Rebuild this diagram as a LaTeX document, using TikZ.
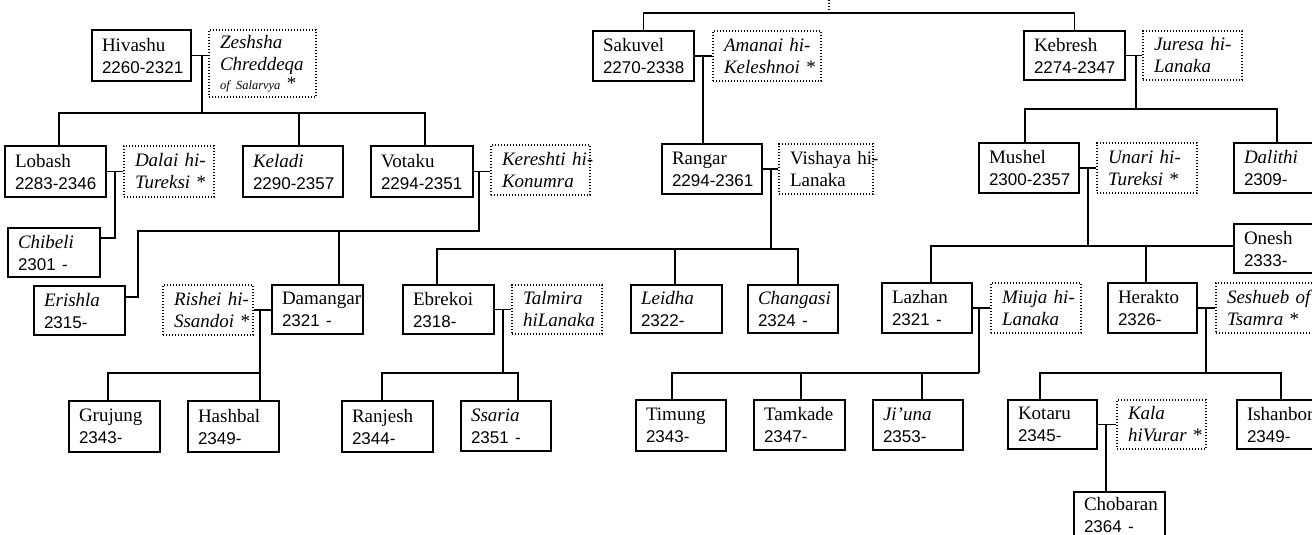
\documentclass[tikz,border=0pt]{standalone}
\usepackage{fontspec}
\setmainfont{Liberation Serif}
\newfontfamily\datefont{Liberation Sans}
\newcommand\nmfont{\fontsize{19}{22}\selectfont\hyphenpenalty=10000\exhyphenpenalty=10000 }
\newcommand\dt[1]{{\datefont\fontsize{17}{22}\selectfont #1}}
\tikzset{
  pbox/.style={draw, line width=1.4pt, inner xsep=10pt, inner ysep=0pt, align=left, font=\nmfont},
  sbox/.style={draw, line width=1.1pt, dash pattern=on 1.3pt off 1.7pt, inner xsep=11pt, inner ysep=0pt, align=left, font=\nmfont},
  conn/.style={line width=1.4pt},
  dconn/.style={line width=1.1pt, dash pattern=on 1.3pt off 1.7pt}
}
\begin{document}
\begin{tikzpicture}[x=1pt,y=-1pt]
\fill[white] (0,0) rectangle (1312,535);
\clip (0,0) rectangle (1312,535);
% ---- people ----
\node[pbox, text width=79pt, minimum height=51pt] (hiv) at (141.5,55.5) {Hivashu\\\dt{2260-2321}};
\node[sbox, text width=85pt, minimum height=67pt] (zes) at (262.5,63.5) {\textit{Zeshsha}\\\textit{Chreddeqa}\\[-3pt]{\fontsize{12.5}{14}\selectfont\itshape of~Salarvya}~*};
\node[pbox, text width=81pt, minimum height=51pt] (lob) at (55.5,171.5) {Lobash\\\dt{2283-2346}};
\node[sbox, text width=68pt, minimum height=51pt] (dla) at (169,171.5) {\textit{Dalai~hi-}\\\textit{Tureksi}~*};
\node[pbox, text width=80pt, minimum height=51pt] (kel) at (293,171.5) {\textit{Keladi}\\\dt{2290-2357}};
\node[pbox, text width=82pt, minimum height=51pt] (vot) at (422,171.5) {Votaku\\\dt{2294-2351}};
\node[sbox, text width=77pt, minimum height=50pt] (ker) at (540.5,170) {\textit{Kereshti~hi-}\\\textit{Konumra}};
\node[pbox, text width=72pt, minimum height=49pt] (chi) at (54,252.5) {\textit{Chibeli}\\\dt{2301~-}};
\node[pbox, text width=71pt, minimum height=49pt] (eri) at (79.5,310.5) {\textit{Erishla}\\\dt{2315-}};
\node[sbox, text width=68pt, minimum height=50pt] (ris) at (208,310) {\textit{Rishei~hi-}\\\textit{Ssandoi}~*};
\node[pbox, text width=71pt, minimum height=49pt] (dam) at (317.5,309.5) {Damangar\\\dt{2321~-}};
\node[pbox, text width=71pt, minimum height=49pt] (ebr) at (448.5,309.5) {Ebrekoi\\\dt{2318-}};
\node[sbox, text width=68pt, minimum height=49pt] (tal) at (557,309.5) {\textit{Talmira}\\\textit{hiLanaka}};
\node[pbox, text width=71pt, minimum height=48pt] (lei) at (676.5,309) {\textit{Leidha}\\\dt{2322-}};
\node[pbox, text width=70pt, minimum height=48pt] (cha) at (793,309) {\textit{Changasi}\\\dt{2324~-}};
\node[pbox, text width=71pt, minimum height=51pt] (gru) at (114.5,426.5) {Grujung\\\dt{2343-}};
\node[pbox, text width=71pt, minimum height=51pt] (has) at (233.5,426.5) {Hashbal\\\dt{2349-}};
\node[pbox, text width=71pt, minimum height=51pt] (ran) at (387.5,426.5) {Ranjesh\\\dt{2344-}};
\node[pbox, text width=70pt, minimum height=50pt] (ssa) at (506,426) {\textit{Ssaria}\\\dt{2351~-}};
\node[pbox, text width=70pt, minimum height=51pt] (tim) at (681,425.5) {Timung\\\dt{2343-}};
\node[pbox, text width=71pt, minimum height=50pt] (tam) at (799.5,425) {Tamkade\\\dt{2347-}};
\node[pbox, text width=70pt, minimum height=50pt] (jiu) at (918,425) {\textit{Ji'una}\\\dt{2353-}};
\node[pbox, text width=81pt, minimum height=50pt] (sak) at (643.5,56) {Sakuvel\\\dt{2270-2338}};
\node[sbox, text width=86pt, minimum height=50pt] (ama) at (767,56) {\textit{Amanai~hi-}\\\textit{Keleshnoi}~*};
\node[pbox, text width=80pt, minimum height=50pt] (rng) at (712,169) {Rangar\\\dt{2294-2361}};
\node[sbox, text width=72pt, minimum height=50pt] (vis) at (826,169) {Vishaya~hi-\\Lanaka};
\node[pbox, text width=81pt, minimum height=49pt] (keb) at (1074.5,55.5) {Kebresh\\\dt{2274-2347}};
\node[sbox, text width=77pt, minimum height=49pt] (jur) at (1192.5,55.5) {\textit{Juresa~hi-}\\\textit{Lanaka}};
\node[pbox, text width=80pt, minimum height=50pt] (mus) at (1029,168) {Mushel\\\dt{2300-2357}};
\node[sbox, text width=78pt, minimum height=50pt] (una) at (1147,168) {\textit{Unari~hi-}\\\textit{Tureksi}~*};
\node[pbox, text width=72pt, minimum height=50pt] (dal) at (1280,168) {\textit{Dalithi}\\\dt{2309-}};
\node[pbox, text width=72pt, minimum height=49pt] (one) at (1280,248.5) {Onesh\\\dt{2333-}};
\node[pbox, text width=70pt, minimum height=50pt] (laz) at (927,308) {Lazhan\\\dt{2321~-}};
\node[sbox, text width=68pt, minimum height=50pt] (miu) at (1036,308) {\textit{Miuja~hi-}\\\textit{Lanaka}};
\node[pbox, text width=69pt, minimum height=50pt] (her) at (1152.5,308) {Herakto\\\dt{2326-}};
\node[sbox, text width=82pt, minimum height=50pt] (ses) at (1268,308) {\textit{Seshueb~of}\\\textit{Tsamra}~*};
\node[pbox, text width=69pt, minimum height=49pt] (kot) at (1052.5,424.5) {Kotaru\\\dt{2345-}};
\node[sbox, text width=67pt, minimum height=49pt] (kal) at (1161.5,424.5) {\textit{Kala}\\\textit{hiVurar}~*};
\node[pbox, text width=70pt, minimum height=49pt] (ish) at (1282,424.5) {Ishanbor\\\dt{2349-}};
\node[pbox, text width=71pt, minimum height=46pt] (cho) at (1119.5,515) {Chobaran\\\dt{2364~-}};
% ---- connectors ----
\coordinate (topend) at (829,0);
\coordinate (tb) at (829,13);
\draw[dconn] (topend) -- (tb);
\draw[conn] (sak.north) |- (tb) -| (keb.north);
% Hivashu
\draw[conn] (hiv.east) -- (hiv.east -| zes.west);
\coordinate (hz) at (202,55.5);
\coordinate (b1) at (202,113);
\draw[conn] (hz) -- (b1);
\draw[conn] ([xshift=3.5pt]lob.north) |- (b1) -| ([xshift=3pt]vot.north);
\draw[conn] ([xshift=6pt]kel.north) |- (b1);
% Lobash
\draw[conn] (lob.east) -- (lob.east -| dla.west);
\coordinate (ld) at (115,171.5);
\draw[conn] (ld) |- ([yshift=14.5pt]chi.east);
% Votaku
\draw[conn] (vot.east) -- (vot.east -| ker.west);
\coordinate (vk) at (479,171.5);
\coordinate (b2) at (479,231);
\coordinate (b2l) at (138,231);
\draw[conn] (vk) -- (b2) -- (b2l) |- ([yshift=13.5pt]eri.east);
\draw[conn] ([xshift=21.5pt]dam.north) |- (b2);
% Damangar
\draw[conn] (ris.east) -- (ris.east -| dam.west);
\coordinate (dr) at (260,310);
\draw[conn] (dr) -- (dr |- has.north);
\coordinate (b3) at (260,373);
\draw[conn] ([xshift=-6.5pt]gru.north) |- (b3);
% Sakuvel
\draw[conn] (sak.east) -- (sak.east -| ama.west);
\coordinate (sa) at (703,56);
\draw[conn] (sa) -- (sa |- rng.north);
% Rangar
\draw[conn] (rng.east) -- (rng.east -| vis.west);
\coordinate (rv) at (771,169);
\coordinate (b4) at (771,249);
\draw[conn] (rv) -- (b4);
\draw[conn] ([xshift=-11.5pt]ebr.north) |- (b4) -| ([xshift=5pt]cha.north);
\draw[conn] ([xshift=-1.5pt]lei.north) |- (b4);
% Ebrekoi
\draw[conn] (ebr.east) -- (ebr.east -| tal.west);
\coordinate (et) at (503,309.5);
\coordinate (b5) at (503,373);
\draw[conn] (et) -- (b5);
\draw[conn] ([xshift=-5.5pt]ran.north) |- (b5) -| ([xshift=12pt]ssa.north);
% Kebresh
\draw[conn] (keb.east) -- (keb.east -| jur.west);
\coordinate (kj) at (1136,55.5);
\coordinate (b6) at (1136,109);
\draw[conn] (kj) -- (b6);
\draw[conn] ([xshift=-4pt]mus.north) |- (b6) -| ([xshift=-3pt]dal.north);
% Mushel
\draw[conn] (mus.east) -- (mus.east -| una.west);
\coordinate (mu) at (1088,168);
\coordinate (b7) at (1088,246);
\draw[conn] (mu) -- (b7);
\draw[conn] ([xshift=4pt]laz.north) |- (b7) -- (b7 -| one.west);
\draw[conn] ([xshift=-6.5pt]her.north) |- (b7);
% Lazhan
\draw[conn] (laz.east) -- (laz.east -| miu.west);
\coordinate (lm) at (979,308);
\coordinate (b8) at (979,373);
\draw[conn] (lm) -- (b8);
\draw[conn] ([xshift=-9pt]tim.north) |- (b8);
\draw[conn] ([xshift=1.5pt]tam.north) |- (b8);
\draw[conn] ([xshift=4pt]jiu.north) |- (b8);
% Herakto
\draw[conn] (her.east) -- (her.east -| ses.west);
\coordinate (hs) at (1206,308);
\coordinate (b9) at (1206,373);
\draw[conn] (hs) -- (b9);
\draw[conn] ([xshift=-12.5pt]kot.north) |- (b9) -| ([xshift=-1pt]ish.north);
% Kotaru
\draw[conn] (kot.east) -- (kot.east -| kal.west);
\coordinate (kk) at (1106,424.5);
\draw[conn] (kk) -- (kk |- cho.north);
\end{tikzpicture}
\end{document}
